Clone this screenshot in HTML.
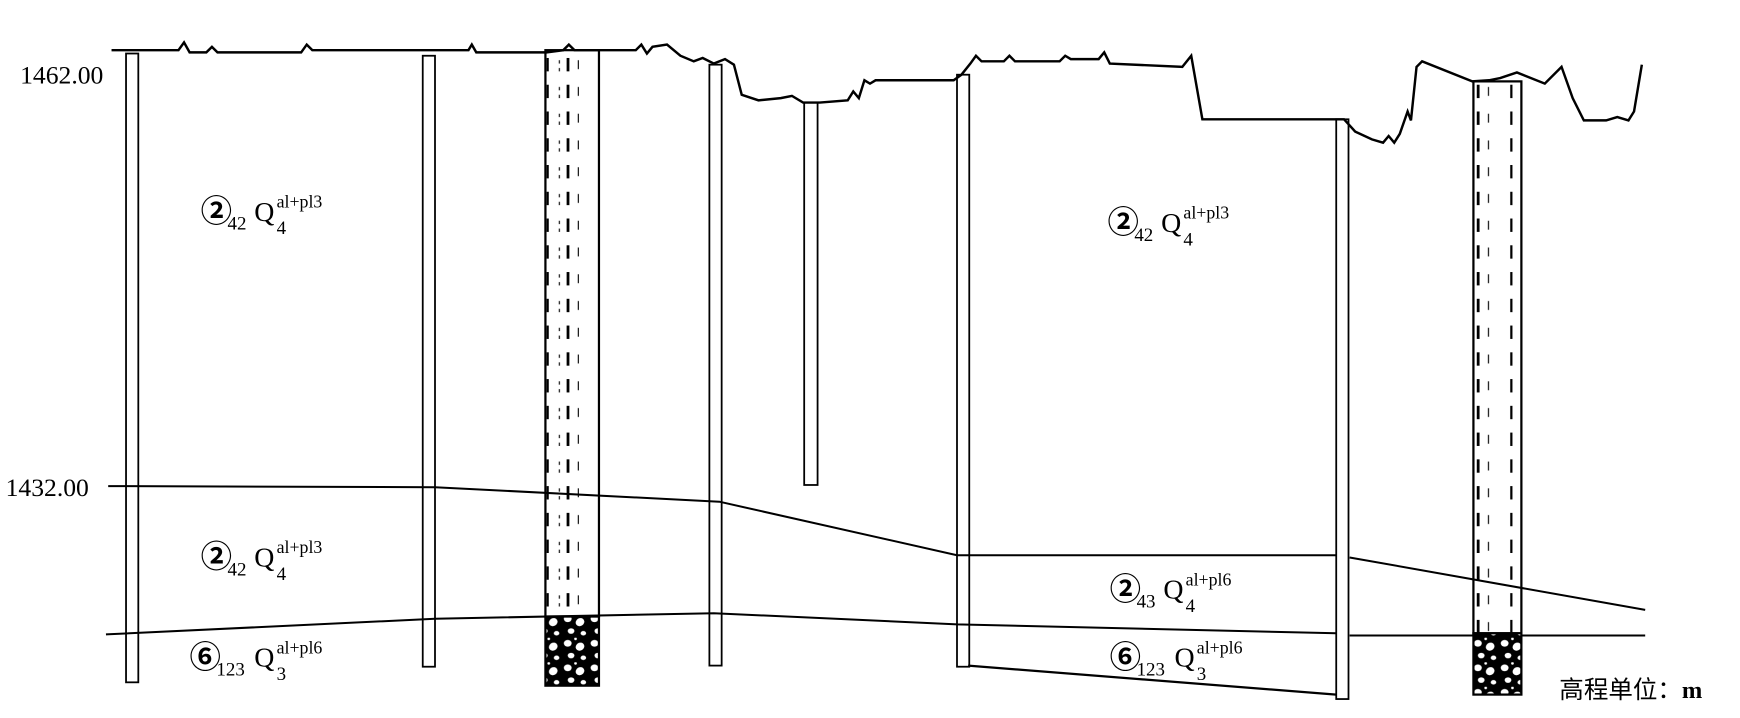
<!DOCTYPE html>
<html><head><meta charset="utf-8"><style>
html,body{margin:0;padding:0;background:#fff;}
svg{display:block;}
text{font-family:"Liberation Serif","Noto Serif CJK SC",serif;fill:#000;}
.c{font-family:"Noto Sans CJK SC","WenQuanYi Zen Hei",sans-serif;font-weight:bold;}
</style></head><body>
<svg width="1740" height="718" viewBox="0 0 1560 644" preserveAspectRatio="none" xmlns="http://www.w3.org/2000/svg">
<defs>
<pattern id="grav" width="24" height="22" patternUnits="userSpaceOnUse">
<rect width="24" height="22" fill="#000"/>
<ellipse cx="5" cy="5" rx="3.5" ry="3" fill="#fff"/>
<ellipse cx="16" cy="8" rx="4" ry="3.5" fill="#fff" transform="rotate(-30 16 8)"/>
<ellipse cx="8" cy="16" rx="3" ry="2.5" fill="#fff"/>
<ellipse cx="19" cy="18" rx="2.5" ry="2" fill="#fff"/>
<circle cx="12" cy="1" r="1.2" fill="#fff"/>
</pattern>
<pattern id="dots" width="48" height="24" patternUnits="userSpaceOnUse">
<rect x="10" y="4" width="2" height="12" fill="#000"/>
<rect x="21" y="6" width="1" height="3" fill="#000"/>
<rect x="21" y="13" width="1" height="3" fill="#000"/>
<rect x="28" y="4" width="2.5" height="12" fill="#000"/>
<rect x="38" y="6" width="1" height="8" fill="#000"/>
</pattern>
</defs>
<g fill="none" stroke="#000" stroke-width="1.8">
<polyline stroke-width="2.2" points="100,45 160,45 165,38 170,47 185,47 190,42 195,47 270,47 275,40 280,45 420,45 423,40 427,47 490,47 505,45 510,40 515,45 570,45 575,40 580,48 585,42 598,40 610,50 622,55 630,52 640,57 650,53 658,58 665,85 680,90 700,88 710,86 720,92 735,92 760,90 765,82 770,88 775,72 780,75 785,72 855,72 862,67 870,57 875,50 880,55 900,55 905,50 910,55 950,55 955,50 960,53 985,53 990,47 995,57 1060,60 1068,50 1078,107 1205,107 1215,118 1230,125 1240,128 1245,122 1250,128 1255,120 1262,100 1265,108 1270,60 1275,55 1320,73 1335,72 1345,70 1360,65 1385,75 1400,60 1410,88 1420,108 1440,108 1450,105 1460,108 1465,100 1472,58"/>
<polyline points="97,436 390,437 645,450 858,498 1198,498"/>
<polyline points="1210,500 1475,547"/>
<polyline points="95,569 390,555 640,550 858,560 1198,568"/>
<line x1="1210" y1="570" x2="1475" y2="570"/>
<line x1="868" y1="597" x2="1198" y2="623" stroke-width="2"/>
</g>
<g fill="none" stroke="#000" stroke-width="1.6">
<rect x="113" y="48" width="11" height="564"/>
<rect x="379" y="50" width="11" height="548"/>
<rect x="636" y="58" width="11" height="539"/>
<rect x="721" y="92" width="12" height="343"/>
<rect x="858" y="67" width="11" height="531"/>
<rect x="1198" y="107" width="11" height="520"/>
</g>
<rect x="489" y="45" width="48" height="508" fill="url(#dots)" stroke="#000" stroke-width="2"/>
<rect x="489" y="553" width="48" height="62" fill="url(#grav)" stroke="#000" stroke-width="2"/>
<rect x="1321" y="73" width="43" height="495" fill="url(#dots)" stroke="#000" stroke-width="2"/>
<rect x="1321" y="568" width="43" height="55" fill="url(#grav)" stroke="#000" stroke-width="2"/>
<text x="18" y="75" font-size="23">1462.00</text>
<text x="5" y="445" font-size="23">1432.00</text>
<g transform="translate(180,198)">
<text class="c" x="0" y="1" font-size="28">②</text><text x="24" y="8" font-size="17">42</text>
<text x="48" y="0" font-size="25">Q</text><text x="68" y="-12" font-size="16">al+pl3</text><text x="68" y="12" font-size="17">4</text></g>
<g transform="translate(993,208)">
<text class="c" x="0" y="1" font-size="28">②</text><text x="24" y="8" font-size="17">42</text>
<text x="48" y="0" font-size="25">Q</text><text x="68" y="-12" font-size="16">al+pl3</text><text x="68" y="12" font-size="17">4</text></g>
<g transform="translate(180,508)">
<text class="c" x="0" y="1" font-size="28">②</text><text x="24" y="8" font-size="17">42</text>
<text x="48" y="0" font-size="25">Q</text><text x="68" y="-12" font-size="16">al+pl3</text><text x="68" y="12" font-size="17">4</text></g>
<g transform="translate(995,537)">
<text class="c" x="0" y="1" font-size="28">②</text><text x="24" y="8" font-size="17">43</text>
<text x="48" y="0" font-size="25">Q</text><text x="68" y="-12" font-size="16">al+pl6</text><text x="68" y="12" font-size="17">4</text></g>
<g transform="translate(170,598)">
<text class="c" x="0" y="1" font-size="28">⑥</text><text x="24" y="8" font-size="17">123</text>
<text x="58" y="0" font-size="25">Q</text><text x="78" y="-12" font-size="16">al+pl6</text><text x="78" y="12" font-size="17">3</text></g>
<g transform="translate(995,598)">
<text class="c" x="0" y="1" font-size="28">⑥</text><text x="24" y="8" font-size="17">123</text>
<text x="58" y="0" font-size="25">Q</text><text x="78" y="-12" font-size="16">al+pl6</text><text x="78" y="12" font-size="17">3</text></g>
<text x="1398" y="626" font-size="22" style="font-family:'Liberation Serif','Noto Sans CJK SC',sans-serif">高程单位：<tspan font-weight="bold" font-family="Liberation Serif">m</tspan></text>
</svg>
</body></html>
